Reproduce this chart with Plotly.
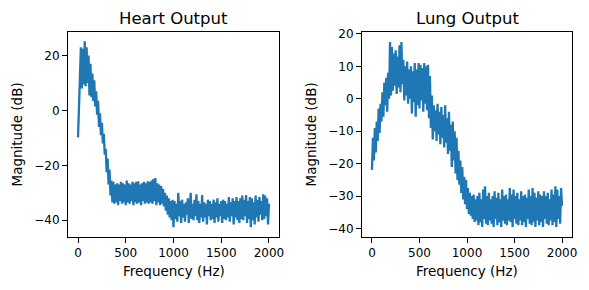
import plotly.graph_objects as go

# Frequency grid (Hz), 10 Hz bins
freqs = list(range(0, 2001, 10))

heart_db = [
    -9.8, 1, 13, 23, 8, 22.5, 9.5, 25.2, 8.8, 23,
    10, 20, 5.5, 17, 4.8, 13.5, 3.5, 11, 1.5, 7,
    -1.5, 3.5, -6, -1, -9, -4.5, -12, -8.5, -16, -14,
    -22.5, -17.5, -27, -21.5, -31,
    -25.5, -33.5, -26, -34, -27, -33.5, -26.5, -34.5, -27, -33,
    -26, -34, -26.5, -33.5, -27, -34.5, -25.5, -33.5, -26.5, -34,
    -27, -33, -26, -34.5, -26.5, -33.5, -26, -34, -25.8, -33.5,
    -27, -34.5, -26.5, -33, -26, -34, -26.5, -33.5, -25.8, -34,
    -26, -33.5, -25.5, -34, -25, -33, -24.6, -34.5, -26.5, -33.5,
    -27, -34.5, -27.5, -34, -28.5,
    -35, -30, -36.5, -31, -38, -32, -39, -33, -40, -32.5,
    -42.5, -33, -39.5, -34, -40.5, -30, -38.5, -33, -41, -32.5,
    -39, -34, -40.5, -33.5, -38, -32, -41, -33, -30, -39.5,
    -34, -40, -32.5, -38.5, -30.5, -40, -33, -41, -34, -39,
    -30.8, -40.5, -33.5, -39, -34, -41.5, -32.5, -38.5, -33, -40,
    -34, -39.5, -32.5, -41, -33.5, -39, -32, -40.5, -34, -38.5,
    -33, -41, -32.5, -39.5, -33, -40, -34, -39, -31.5, -40.5,
    -33.5, -38.5, -32, -41.5, -33, -39, -31.5, -40, -33, -41,
    -32, -39.5, -31, -40, -32.5, -38.5, -30.8, -41, -33, -39.5,
    -31.5, -42.5, -32, -40, -33.5, -41.5, -31, -39, -32.5, -40.5,
    -31.5, -38, -33, -40, -30.5, -39.5, -31, -38.5, -32, -41.5,
    -34,
]

lung_db = [
    -21.9, -12, -19, -9, -16.5, -7, -13, -3, -10.5, -1.5,
    -7, 2, -5.5, 5, -2, 6.5, -4, 8, 0, 17.5,
    1, 16, 2.5, 14, 4, 15, 1.5, 13, 3.5, 16.5,
    2, 17.5, 4.5, 12, -0.5, 10, 1, 11.5, -1.5, 9,
    0, 10, -4.5, 8.5, -1, 11, -5.5, 9, -2, 11,
    -3, 10.5, -0.5, 9.5, -4, 11, -1.5, 10, -3.5, 10.5,
    -6, 7, -9, 1, -12.5, -2, -10, -3.5, -13, -1.5,
    -11, -4, -14, -2.5, -12, -5, -15, -2, -13.5, -6,
    -17, -4, -16, -8, -21, -7, -19, -10, -23, -12,
    -25, -16, -26.5, -19, -29, -21, -31, -24, -32.5, -25,
    -34, -27.5, -35.5, -29, -36, -30, -37, -29.5, -38, -31,
    -37.5, -30, -39, -29, -38, -31, -39.5, -28, -37, -27,
    -38.5, -30, -39, -29, -37.5, -31, -38.5, -30, -39.5, -28.5,
    -37, -30.5, -39, -29, -38, -31, -39.5, -28, -37.5, -30,
    -38.5, -29.5, -39, -31, -37.5, -27.5, -38, -29.5, -39.5, -28,
    -37, -30, -38.5, -29, -39, -31, -37.5, -28.5, -39, -30,
    -38, -29.5, -39.5, -30.5, -37, -28, -38.5, -30, -39, -27.5,
    -38, -29, -39.5, -30.5, -37.5, -28.5, -39, -29.5, -38, -30,
    -39.5, -28.5, -37, -30, -38.5, -29, -39, -31, -37.5, -28,
    -39, -29.5, -38, -27, -39.5, -28, -37, -30, -38.5, -27.5,
    -33,
]

titles = ["Heart Output", "Lung Output"]
x_ticks = [0, 500, 1000, 1500, 2000]
heart_y_ticks = [-40, -20, 0, 20]
lung_y_ticks = [-40, -30, -20, -10, 0, 10, 20]

W, H = 589, 290
LINE = "#1f77b4"
FONT = "DejaVu Sans"

# axes boxes in pixels (left, right, top, bottom)
boxes = [(68, 279, 32, 237), (362, 572, 32, 237)]

def px_x(p):
    return p / W

def px_y(p):
    return 1 - p / H

fig = go.Figure()
fig.add_trace(go.Scatter(x=freqs, y=heart_db, mode="lines",
                         line=dict(color=LINE, width=2.3),
                         xaxis="x", yaxis="y", showlegend=False))
fig.add_trace(go.Scatter(x=freqs, y=lung_db, mode="lines",
                         line=dict(color=LINE, width=2.3),
                         xaxis="x2", yaxis="y2", showlegend=False))

def ax_common():
    return dict(showline=True, linecolor="black", linewidth=1, mirror=True,
                ticks="outside", ticklen=5, tickwidth=1, tickcolor="black",
                showgrid=False, zeroline=False, automargin=False,
                tickfont=dict(family=FONT, size=12, color="black"))

yranges = [[-46.1, 28.6], [-42.6, 20.6]]
yticks = [heart_y_ticks, lung_y_ticks]
layout = dict(width=W, height=H, paper_bgcolor="white", plot_bgcolor="white",
              margin=dict(l=0, r=0, t=0, b=0, pad=0), showlegend=False)
annotations = []
for i, (l, r, t, b) in enumerate(boxes):
    sx = "" if i == 0 else "2"
    xa = ax_common()
    xa.update(domain=[px_x(l), px_x(r)], range=[-105, 2105],
              tickvals=x_ticks, ticktext=[str(v) for v in x_ticks],
              anchor="y" + sx)
    ya = ax_common()
    ya.update(domain=[px_y(b), px_y(t)], range=yranges[i],
              tickvals=yticks[i],
              ticktext=[str(v).replace("-", "\u2212") for v in yticks[i]],
              anchor="x" + sx)
    layout["xaxis" + sx] = xa
    layout["yaxis" + sx] = ya
    cx = (l + r) / 2
    annotations.append(dict(text=titles[i], x=px_x(cx), y=px_y(18), xref="paper", yref="paper",
                            showarrow=False, xanchor="center", yanchor="middle",
                            font=dict(family=FONT, size=16.5, color="black")))
    annotations.append(dict(text="Frequency (Hz)", x=px_x(cx), y=px_y(271), xref="paper", yref="paper",
                            showarrow=False, xanchor="center", yanchor="middle",
                            font=dict(family=FONT, size=13.5, color="black")))
    annotations.append(dict(text="Magnitude (dB)", x=px_x(l - 52), y=px_y((t + b) / 2), xref="paper", yref="paper",
                            showarrow=False, xanchor="center", yanchor="middle", textangle=-90,
                            font=dict(family=FONT, size=13.5, color="black")))
layout["annotations"] = annotations
fig.update_layout(**layout)
fig.write_html("out.html", config={"displayModeBar": False},
               post_script="document.body.style.margin='0';document.body.style.overflow='hidden';")
